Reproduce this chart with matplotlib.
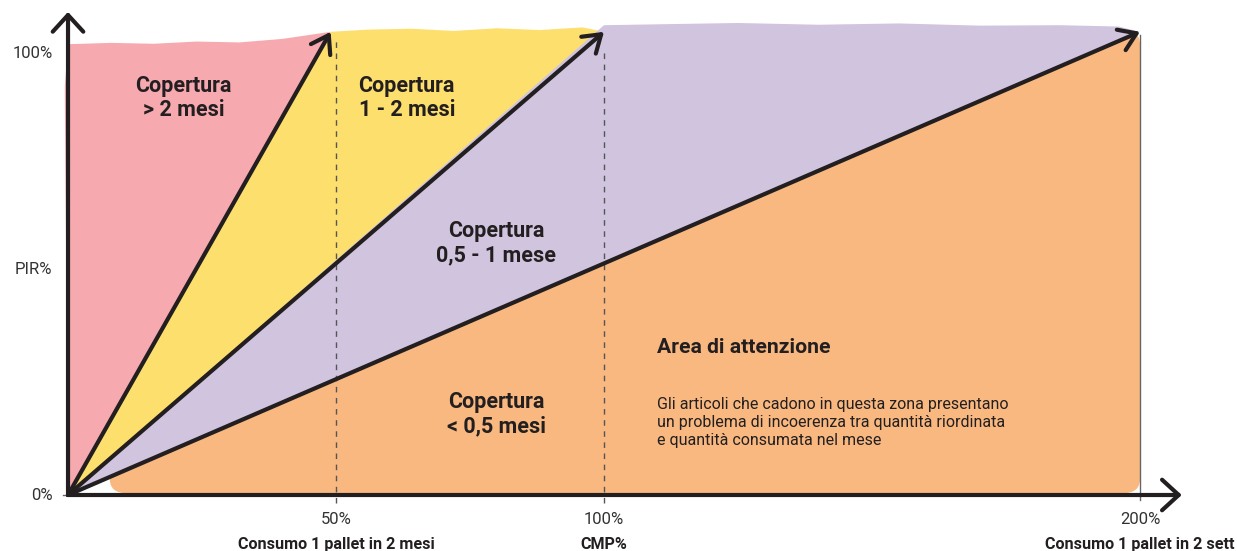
import matplotlib
matplotlib.use('Agg')
import matplotlib.pyplot as plt
from matplotlib.patches import Polygon, FancyArrowPatch, FancyBboxPatch

plt.rcParams['font.family'] = ['Roboto', 'DejaVu Sans']

# data
boundary_cmp = [49, 100, 200]          # CMP% reached at PIR% top by each coverage line
boundary_pir = 104.8
x_ticks = [50, 100, 200]
x_tick_labels = ['50%', '100%', '200%']
x_titles = ['Consumo 1 pallet in 2 mesi', 'CMP%', 'Consumo 1 pallet in 2 sett']
y_ticks = [0, 51, 100]
y_tick_labels = ['0%', 'PIR%', '100%']
zone_labels = ['Copertura\n> 2 mesi', 'Copertura\n1 - 2 mesi',
               'Copertura\n0,5 - 1 mese', 'Copertura\n< 0,5 mesi']
area_title = 'Area di attenzione'
area_text = ('Gli articoli che cadono in questa zona presentano\n'
             'un problema di incoerenza tra quantità riordinata\n'
             'e quantità consumata nel mese')

# hand-painted top edges of the zones (rough)
pink_top_x = [-0.6, -0.6, 0, 8, 16, 24, 32, 40, 49]
pink_top_y = [90.5, 92.5, 102.0, 102.3, 102.1, 102.6, 102.4, 103.2, 104.8]
yellow_top_x = [49, 56, 64, 72, 80, 88, 96, 100]
yellow_top_y = [104.8, 105.3, 105.5, 105.0, 105.6, 105.2, 105.8, 104.8]
purple_top_x = [100, 110, 125, 140, 155, 170, 185, 196, 200]
purple_top_y = [106.3, 106.5, 106.8, 106.4, 106.7, 106.2, 106.3, 106.0, 104.8]

PINK = '#f6aab0'
YELLOW = '#fddf6e'
PURPLE = '#d1c4df'
ORANGE = '#f8b880'
INK = '#231f20'

fig = plt.figure(figsize=(12.37, 5.51), dpi=100)
ax = fig.add_axes([0, 0, 1, 1])
ax.set_xlim(-12.69, 218.1)
ax.set_ylim(-12.67, 112.0)
ax.axis('off')

# zones
pink = [(0, 0)] + list(zip(pink_top_x, pink_top_y))
ax.add_patch(Polygon(pink, closed=True, fc=PINK, ec='none', zorder=1))
yellow = [(0, 0)] + list(zip(yellow_top_x, yellow_top_y))
ax.add_patch(Polygon(yellow, closed=True, fc=YELLOW, ec='none', zorder=1))
purple = [(0, 0)] + list(zip(purple_top_x, purple_top_y))
ax.add_patch(Polygon(purple, closed=True, fc=PURPLE, ec='none', zorder=1))

tri = Polygon([(0, -0.3), (boundary_cmp[2], boundary_pir), (boundary_cmp[2], -0.3)],
              closed=True, fc='none', ec='none', transform=ax.transData)
ax.add_patch(tri)
orange = FancyBboxPatch((7.8, 0.4), boundary_cmp[2] - 7.8, boundary_pir,
                        boxstyle='round,pad=0,rounding_size=3.2',
                        fc=ORANGE, ec='none', zorder=1.5)
ax.add_patch(orange)
orange.set_clip_path(tri)

# reference lines
for x in x_ticks[:2]:
    top = 103 if x == 50 else 100.5
    ax.plot([x, x], [-1.8, top], color='#555555', lw=1, ls=(0, (4, 4)), zorder=2)
ax.plot([200, 200], [-1.2, 104], color='#666666', lw=1, zorder=2)
ax.plot([-1.0, 0], [0, 0], color='#666666', lw=1, zorder=2)

# coverage arrows
for bx in boundary_cmp:
    ax.add_patch(FancyArrowPatch((0, 0), (bx, boundary_pir),
                                 arrowstyle='->,head_length=0.6,head_width=0.4',
                                 mutation_scale=20, lw=3, color=INK,
                                 shrinkA=0, shrinkB=0, capstyle='round',
                                 joinstyle='round', zorder=4))

# axes
ax.add_patch(FancyArrowPatch((0, 0), (0, 109.3),
                             arrowstyle='->,head_length=0.6,head_width=0.55',
                             mutation_scale=20, lw=3, color=INK,
                             shrinkA=0, shrinkB=0, capstyle='round', zorder=5))
ax.add_patch(FancyArrowPatch((0, 0), (207.8, 0),
                             arrowstyle='->,head_length=0.6,head_width=0.55',
                             mutation_scale=20, lw=3, color=INK,
                             shrinkA=0, shrinkB=0, capstyle='round', zorder=5))

# tick labels
for y, lab in zip(y_ticks, y_tick_labels):
    ax.text(-2.9, y, lab, ha='right', va='center', fontsize=12, color='#333333')
for x, lab, title in zip(x_ticks, x_tick_labels, x_titles):
    ax.text(x, -5.5, lab, ha='center', va='center', fontsize=12, color='#333333')
    ax.text(x, -11.3, title, ha='center', va='center', fontsize=11.6,
            fontweight='bold', color=INK)

# zone labels
lab_pos = [(21.5, 89.8), (63.2, 89.8), (79.9, 57.0), (79.9, 18.3)]
for (x, y), lab in zip(lab_pos, zone_labels):
    ax.text(x, y, lab, ha='center', va='center', fontsize=15.5, fontweight='bold',
            color=INK, linespacing=1.1, zorder=6)

ax.text(109.9, 33.3, area_title, ha='left', va='center', fontsize=15.2,
        fontweight='bold', color=INK, zorder=6)
ax.text(109.9, 16.5, area_text, ha='left', va='center', fontsize=11.5,
        color=INK, linespacing=1.25, zorder=6)

fig.savefig('out.png', dpi=100)
